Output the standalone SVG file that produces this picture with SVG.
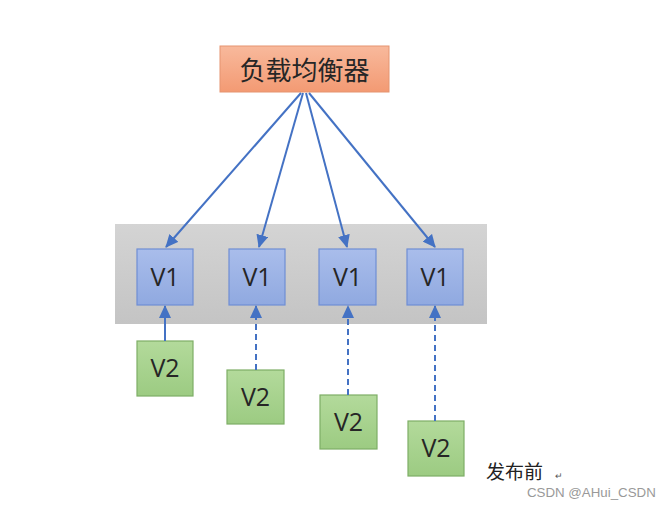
<svg xmlns="http://www.w3.org/2000/svg" width="671" height="507" viewBox="0 0 671 507">
<defs>
<linearGradient id="gOr" x1="0" y1="0" x2="0" y2="1"><stop offset="0" stop-color="#f8b99c"/><stop offset="1" stop-color="#f39a73"/></linearGradient>
<linearGradient id="gBl" x1="0" y1="0" x2="0" y2="1"><stop offset="0" stop-color="#a9bdeb"/><stop offset="1" stop-color="#90a9e0"/></linearGradient>
<linearGradient id="gGr" x1="0" y1="0" x2="0" y2="1"><stop offset="0" stop-color="#b3da9b"/><stop offset="1" stop-color="#9ccb82"/></linearGradient>
<linearGradient id="gGy" x1="0" y1="0" x2="0" y2="1"><stop offset="0" stop-color="#d4d4d4"/><stop offset="1" stop-color="#c4c4c4"/></linearGradient>
<marker id="ah" markerWidth="13" markerHeight="12" refX="12" refY="6" orient="auto" markerUnits="userSpaceOnUse"><path d="M0,0 L13,6 L0,12 z" fill="#4472c4"/></marker>
</defs>
<style>
.lbl{font-family:"Open Sans","Noto Sans CJK SC",sans-serif;font-size:25px;fill:#262626;text-anchor:middle}
.v1{fill:url(#gBl);stroke:#6f8ed4;stroke-width:1.2}
.v2{fill:url(#gGr);stroke:#7eae66;stroke-width:1.2}
.c{stroke:#4472c4;stroke-width:2;fill:none;marker-end:url(#ah)}
.d{stroke-dasharray:6,4}
</style>
<rect width="671" height="507" fill="#ffffff"/>
<rect x="115" y="224" width="372" height="100" fill="url(#gGy)"/>
<g id="lb"><rect x="220" y="46" width="169" height="46" fill="url(#gOr)" stroke="#e59470" stroke-width="1"/><text class="lbl" x="304.5" y="80" style="font-family:'Noto Sans CJK SC',sans-serif;font-size:26px">负载均衡器</text></g>
<g id="v1a"><rect class="v1" x="137" y="249" width="56" height="56"/><text class="lbl" x="165" y="286">V1</text></g>
<g id="v1b"><rect class="v1" x="229" y="249" width="56" height="56"/><text class="lbl" x="257" y="286">V1</text></g>
<g id="v1c"><rect class="v1" x="319" y="249" width="57" height="56"/><text class="lbl" x="347.5" y="286">V1</text></g>
<g id="v1d"><rect class="v1" x="407" y="249" width="56" height="56"/><text class="lbl" x="435" y="286">V1</text></g>
<g id="v2a"><rect class="v2" x="137" y="341" width="56" height="55"/><text class="lbl" x="165" y="377">V2</text></g>
<g id="v2b"><rect class="v2" x="227" y="370" width="57" height="54"/><text class="lbl" x="255.5" y="406">V2</text></g>
<g id="v2c"><rect class="v2" x="320" y="395" width="57" height="54"/><text class="lbl" x="348.5" y="431">V2</text></g>
<g id="v2d"><rect class="v2" x="408" y="421" width="56" height="55"/><text class="lbl" x="436" y="457">V2</text></g>
<g id="connectors">
<line class="c" x1="301" y1="93" x2="166" y2="247"/>
<line class="c" x1="303" y1="93" x2="259" y2="247"/>
<line class="c" x1="306" y1="93" x2="347" y2="247"/>
<line class="c" x1="309" y1="93" x2="435" y2="247"/>
<line class="c" x1="165" y1="341" x2="165" y2="306"/>
<line class="c d" x1="256" y1="370" x2="256" y2="306"/>
<line class="c d" x1="348" y1="395" x2="348" y2="306"/>
<line class="c d" x1="435" y1="421" x2="435" y2="306"/>
</g>
<text x="486" y="479" style="font-family:'Noto Sans CJK SC',sans-serif;font-size:19px;fill:#222">发布前</text>
<text x="555" y="479" style="font-family:'Liberation Sans',sans-serif;font-size:9px;fill:#555">↵</text>
<text x="527" y="497" style="font-family:'Liberation Sans',sans-serif;font-size:13.3px;fill:#999">CSDN @AHui_CSDN</text>
</svg>
